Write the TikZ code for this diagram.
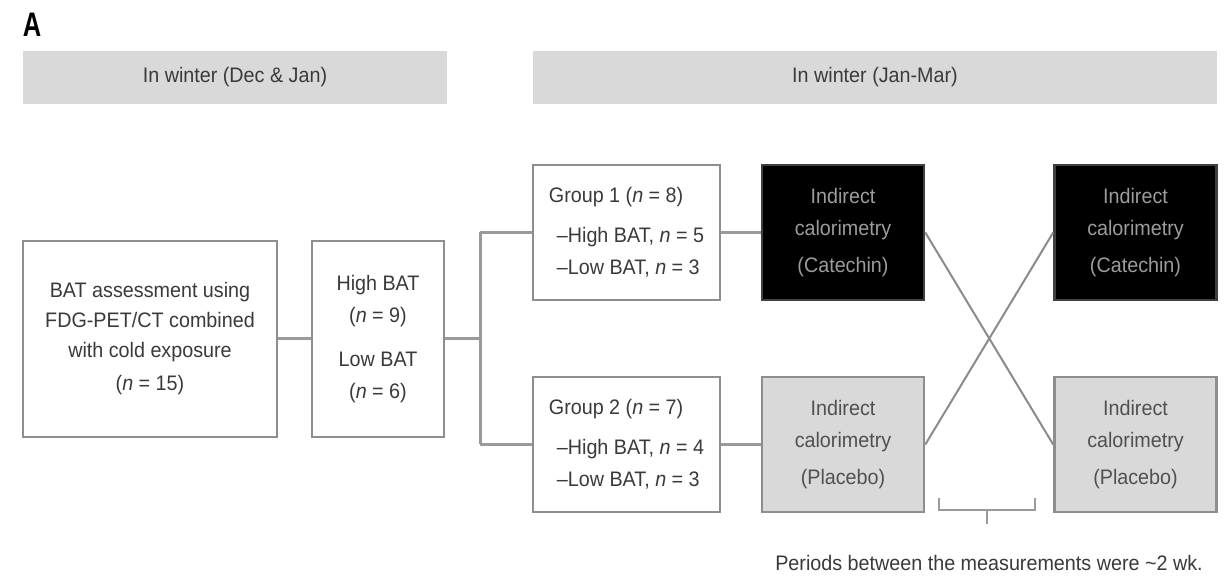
\documentclass[tikz,border=0pt]{standalone}
\usepackage{fontspec}
\setmainfont{Liberation Sans}[FakeStretch=0.94]
\newfontfamily\lblfont{Liberation Sans}[FakeStretch=0.75]
\definecolor{hdrfill}{HTML}{D9D9D9}
\definecolor{txtcol}{HTML}{3A3A3A}
\definecolor{bordcol}{HTML}{8E8E8E}
\definecolor{linegray}{HTML}{9A9A9A}
\definecolor{ctxtcol}{HTML}{9C9C9C}
\definecolor{ptxtcol}{HTML}{505050}
\begin{document}
\begin{tikzpicture}[x=0.5pt,y=-0.5pt,
  every node/.style={font=\fontsize{10.5}{15}\selectfont, text=txtcol},
  header/.style={fill=hdrfill, draw=none, minimum height=26.5pt, inner sep=0pt},
  wbox/.style={draw=bordcol, line width=1.3pt, fill=white, align=center, inner sep=0pt},
  gbox/.style={wbox, minimum width=93.5pt, minimum height=67.5pt, align=left,
               font=\fontsize{10.5}{16}\selectfont},
  cbox/.style={draw=black!75, line width=1.3pt, fill=black, text=ctxtcol, align=center, inner sep=0pt,
               minimum width=81pt, minimum height=67.5pt, font=\fontsize{10.5}{16}\selectfont},
  pbox/.style={draw=bordcol, line width=1.3pt, fill=hdrfill, text=ptxtcol, align=center, inner sep=0pt,
               minimum width=81pt, minimum height=67.5pt, font=\fontsize{10.5}{16}\selectfont},
  lnk/.style={draw=linegray, line width=1.5pt},
  xlnk/.style={draw=linegray!90!black, line width=1pt},
  brk/.style={draw=linegray, line width=1pt}
]
\fill[white] (0,0) rectangle (1225,576);
\useasboundingbox (0,0) rectangle (1225,576);

\node[font=\lblfont\bfseries\fontsize{17}{17}\selectfont, text=black] (lbl) at (32,25) {A};

\node[header, minimum width=212pt] (hdrL) at (235,77.5) {In winter (Dec \& Jan)};
\node[header, minimum width=342pt] (hdrR) at (875,77.5) {In winter (Jan-Mar)};

\node[wbox, minimum width=127pt, minimum height=98pt] (bat) at (150,339)
  {BAT assessment using\\FDG-PET/CT combined\\with cold exposure\\[1.5pt](\textit{n} = 15)};
\node[wbox, minimum width=66pt, minimum height=98pt, font=\fontsize{10.5}{16}\selectfont] (hb) at (378,339)
  {High BAT\\(\textit{n} = 9)\\[6pt]Low BAT\\(\textit{n} = 6)};

\node[gbox] (g1) at (626.5,232.5)
  {Group 1 (\textit{n} = 8)\\[4pt]\hspace*{4pt}–High BAT, \textit{n} = 5\\\hspace*{4pt}–Low BAT, \textit{n} = 3};
\node[gbox] (g2) at (626.5,444.5)
  {Group 2 (\textit{n} = 7)\\[4pt]\hspace*{4pt}–High BAT, \textit{n} = 4\\\hspace*{4pt}–Low BAT, \textit{n} = 3};

\node[cbox] (c1) at (843,232.5) {Indirect\\calorimetry\\[2.5pt](Catechin)};
\node[pbox] (p1) at (843,444.5) {Indirect\\calorimetry\\[2.5pt](Placebo)};
\node[cbox] (c2) at (1135.5,232.5) {Indirect\\calorimetry\\[2.5pt](Catechin)};
\node[pbox] (p2) at (1135.5,444.5) {Indirect\\calorimetry\\[2.5pt](Placebo)};

\coordinate (j) at (480,339);
\coordinate (j1) at (480,232.5);
\coordinate (j2) at (480,444.5);

\draw[lnk] (bat.east) -- (hb.west);
\draw[lnk] (hb.east) -- (j);
\draw[lnk] (j1) -- (j2);
\draw[lnk] (j1) -- (g1.west);
\draw[lnk] (j2) -- (g2.west);
\draw[lnk] (g1.east) -- (c1.west);
\draw[lnk] (g2.east) -- (p1.west);
\draw[xlnk] (c1.east) -- (p2.west);
\draw[xlnk] (p1.east) -- (c2.west);

\coordinate (bl) at (939,498);
\coordinate (blb) at (939,510);
\coordinate (brb) at (1035,510);
\coordinate (br) at (1035,498);
\coordinate (bm) at (987,510);
\coordinate (bt) at (987,524);
\draw[brk] (bl) -- (blb) -- (brb) -- (br);
\draw[brk] (bm) -- (bt);

\node (note) at (989,563) {Periods between the measurements were \textasciitilde2 wk.};
\end{tikzpicture}
\end{document}
